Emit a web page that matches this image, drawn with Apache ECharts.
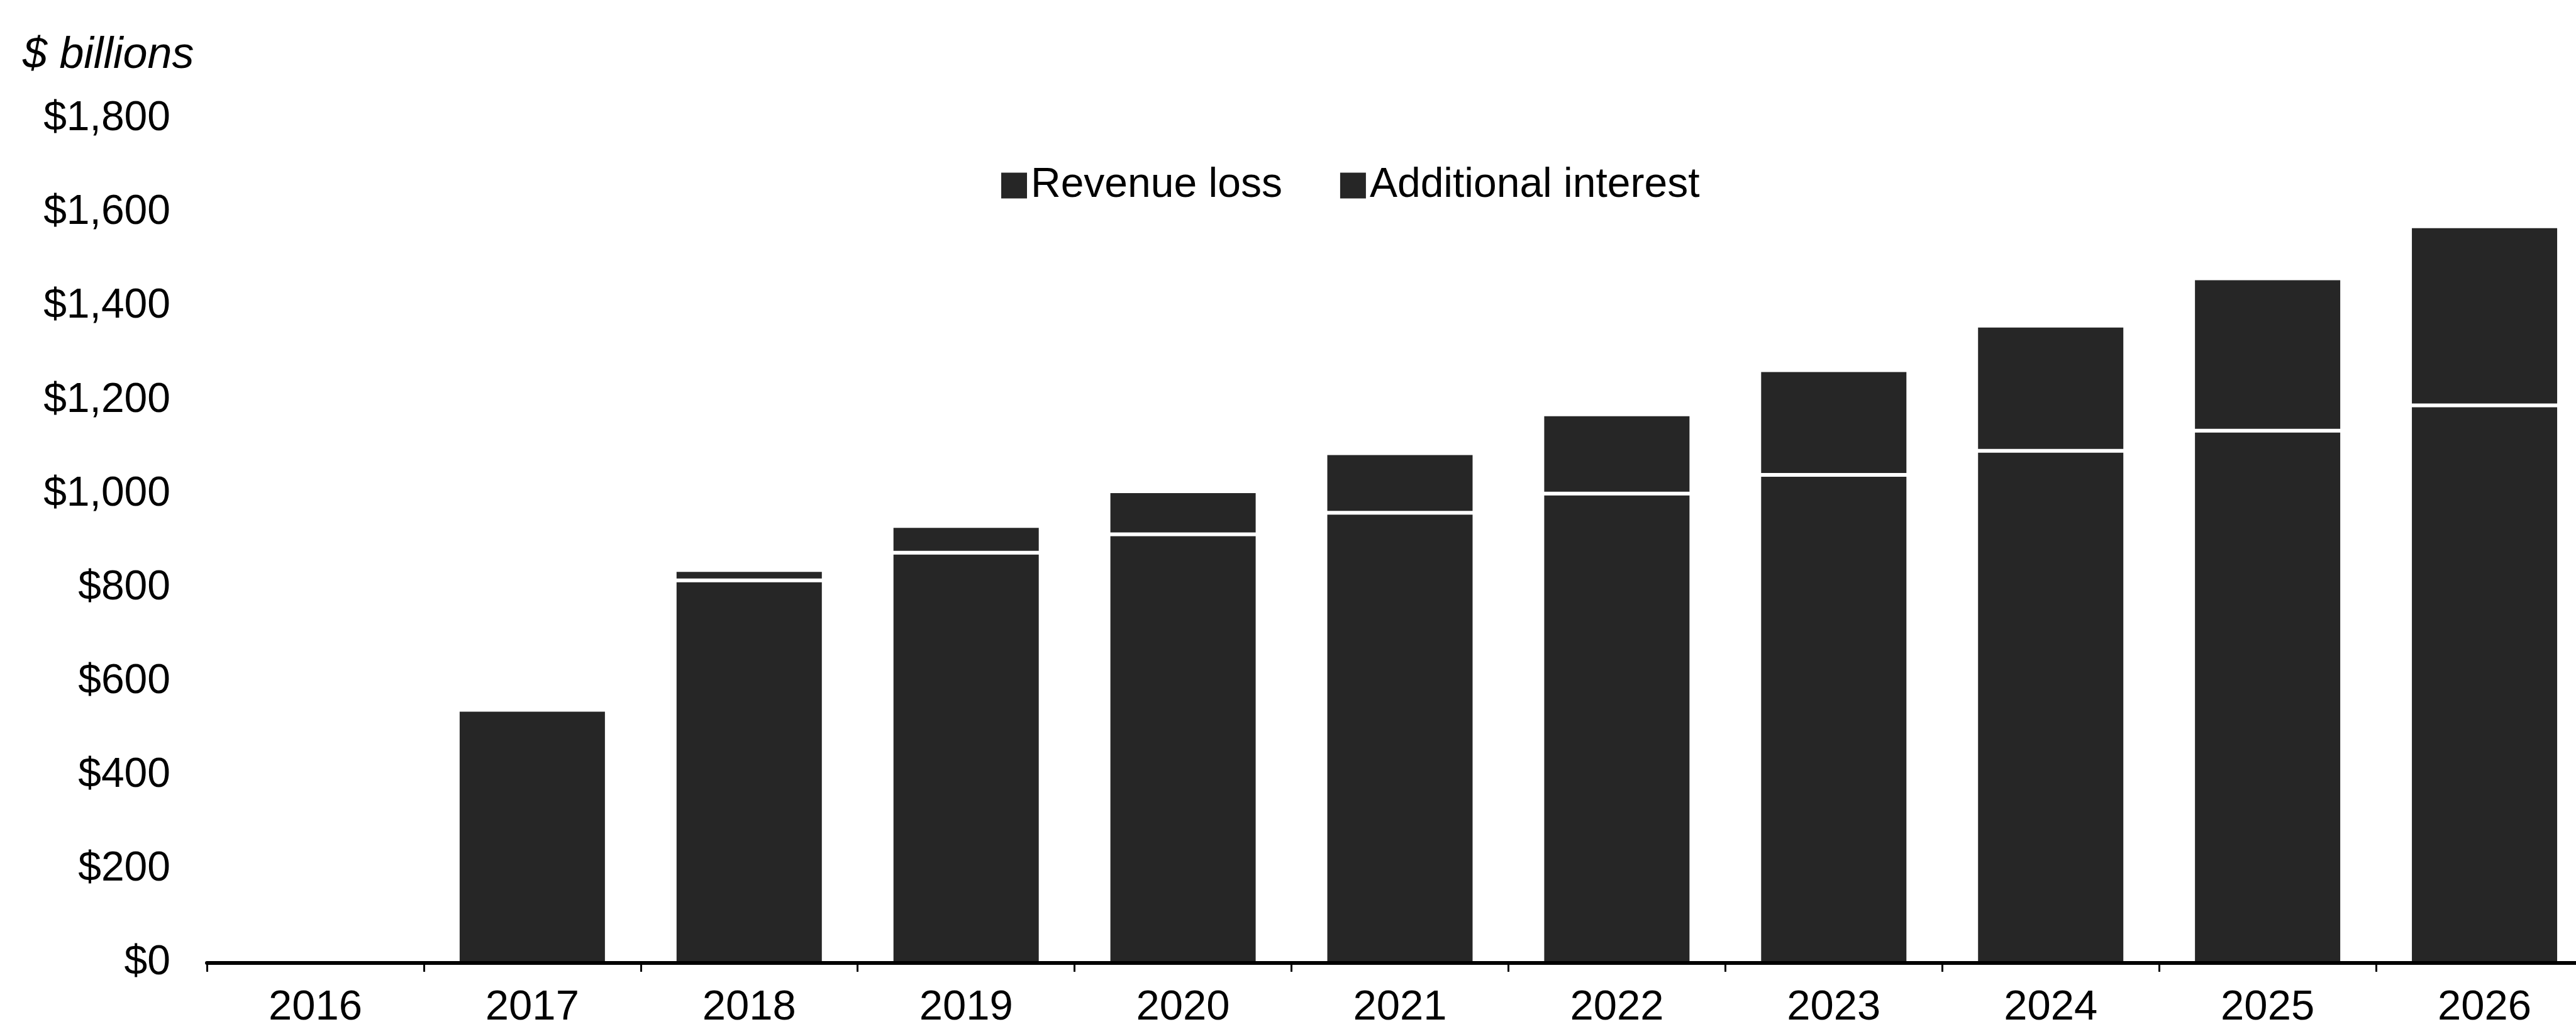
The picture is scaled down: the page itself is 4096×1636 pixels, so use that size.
<!DOCTYPE html>
<html>
<head>
<meta charset="utf-8">
<script src="https://cdn.jsdelivr.net/npm/echarts@6/dist/echarts.min.js"></script>
<style>
html,body{margin:0;padding:0;background:#fff;}
#chart{width:4096px;height:1636px;}
</style>
</head>
<body>
<div id="chart"></div>
<script>
const years = ['2016','2017','2018','2019','2020','2021','2022','2023','2024','2025','2026'];
const revenueLoss = [0, 540, 816, 875, 914, 960, 1001, 1041, 1092, 1135, 1189];
const additionalInterest = [0, 5, 22, 57, 92, 127, 169, 223, 267, 325, 382];
const yTickLabels = ['$0','$200','$400','$600','$800','$1,000','$1,200','$1,400','$1,600','$1,800'];
const unitLabel = '$ billions';
const seriesNames = ['Revenue loss','Additional interest'];

const FONT = '"Liberation Sans", Arial, sans-serif';
const chart = echarts.init(document.getElementById('chart'), null, {renderer:'canvas'});
const barStyle = {color:'#262626', borderColor:'#ffffff', borderWidth:3};
chart.setOption({
  animation:false,
  backgroundColor:'#ffffff',
  title:{
    text:unitLabel, left:36, top:54, padding:0,
    textStyle:{fontFamily:FONT, fontSize:70, fontStyle:'italic', fontWeight:'normal', color:'#000'}
  },
  legend:{
    data:seriesNames, left:1590, top:262, padding:0,
    icon:'rect', itemWidth:43, itemHeight:43, itemGap:90, selectedMode:false,
    textStyle:{fontFamily:FONT, fontSize:66, color:'#000', padding:[0,0,0,0]}
  },
  grid:{left:329, top:189, width:3794, bottom:105, containLabel:false, outerBoundsMode:'none'},
  xAxis:{
    type:'category', data:years, z:10,
    axisLine:{show:true, lineStyle:{color:'#000', width:6}},
    axisTick:{show:true, alignWithLabel:false, length:14, lineStyle:{color:'#000', width:3}},
    axisLabel:{fontFamily:FONT, fontSize:67, color:'#000', margin:38}
  },
  yAxis:{
    type:'value', min:0, max:1800, interval:200,
    axisLine:{show:false}, axisTick:{show:false}, splitLine:{show:false},
    axisLabel:{fontFamily:FONT, fontSize:66, color:'#000', margin:58,
      formatter:function(v){return yTickLabels[Math.round(v/200)];}}
  },
  series:[
    {name:seriesNames[0], type:'bar', stack:'total', data:revenueLoss, barWidth:237, itemStyle:barStyle},
    {name:seriesNames[1], type:'bar', stack:'total', data:additionalInterest, barWidth:237, itemStyle:barStyle}
  ]
});
</script>
</body>
</html>
